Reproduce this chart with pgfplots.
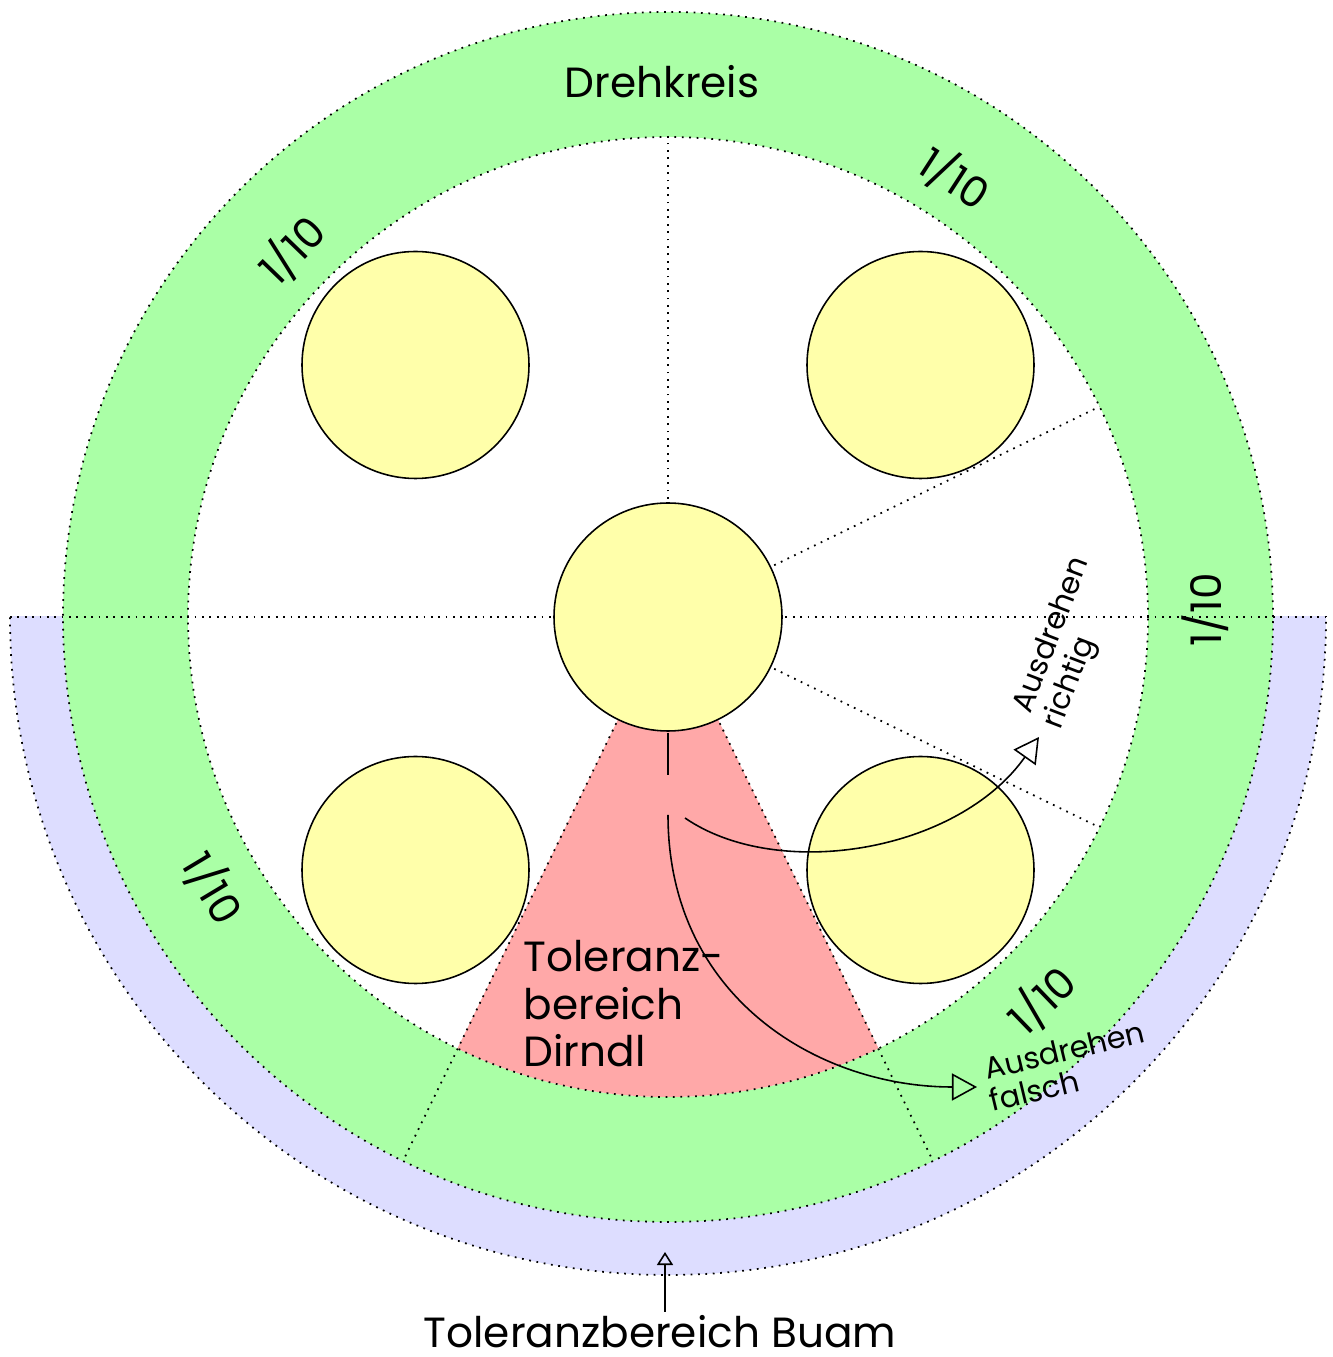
\documentclass[border=0pt]{standalone}
\usepackage{pgfplots}
\pgfplotsset{compat=1.18}
\usepackage{fontspec}
\setmainfont{Poppins}
\usetikzlibrary{arrows.meta}
\definecolor{ringgreen}{RGB}{170,255,166}
\definecolor{bandblue}{RGB}{221,221,255}
\definecolor{sectred}{RGB}{255,168,168}
\definecolor{yel}{RGB}{255,255,170}
\tikzset{dotl/.style={line width=0.5pt, dash pattern=on 0.5pt off 1.6pt, draw=black},
  sol/.style={line width=0.45pt, draw=black}}
\newcommand{\bigtxt}{\fontsize{12}{15}\selectfont}
\newcommand{\smtxt}{\fontsize{8.6}{11}\selectfont}
\begin{document}
\begin{tikzpicture}
\begin{axis}[x=0.01cm, y=0.01cm, xmin=-668, xmax=664, ymin=-740, ymax=617,
  hide axis, clip=false]
% blue band (lower half)
\begin{scope}
\clip (axis cs:-700,0) rectangle (axis cs:700,-700);
\fill[bandblue] (axis cs:0,0) circle[radius=658];
\draw[dotl] (axis cs:0,0) circle[radius=658];
\end{scope}
% green ring
\fill[ringgreen] (axis cs:0,0) circle[radius=605];
\fill[white] (axis cs:0,0) circle[radius=480];
% red sector
\begin{scope}
\clip (axis cs:0,0) circle[radius=480];
\addplot[draw=none, fill=sectred] coordinates {(0,0) (-307,-629) (307,-629) (0,0)} -- cycle;
\end{scope}
% dotted outlines
\draw[dotl] (axis cs:0,0) circle[radius=605];
\draw[dotl] (axis cs:0,0) circle[radius=480];
\addplot[dotl] coordinates {(-658,0) (658,0)};
\addplot[dotl] coordinates {(0,0) (0,480)};
\addplot[dotl] coordinates {(0,0) (431.5,210.4)};
\addplot[dotl] coordinates {(0,0) (431.5,-210.4)};
\addplot[dotl] coordinates {(0,0) (-265,-544)};
\addplot[dotl] coordinates {(0,0) (265,-544)};
% yellow circles
\filldraw[fill=yel, sol] (axis cs:0,0) circle[radius=114];
\filldraw[fill=yel, sol] (axis cs:-252.5,252) circle[radius=113.5];
\filldraw[fill=yel, sol] (axis cs:252.5,252) circle[radius=113.5];
\filldraw[fill=yel, sol] (axis cs:-252.5,-253) circle[radius=113.5];
\filldraw[fill=yel, sol] (axis cs:252.5,-253) circle[radius=113.5];
% arrows
\addplot[sol] coordinates {(0,-116) (0,-158)};
\draw[sol, -{Triangle[open, length=0.25cm, width=0.27cm]}] (axis cs:17,-201) .. controls (axis cs:110,-265) and (axis cs:290,-235) .. (axis cs:371,-120);
\draw[sol, -{Triangle[open, length=0.25cm, width=0.27cm]}] (axis cs:0,-198) .. controls (axis cs:0,-380) and (axis cs:150,-470) .. (axis cs:309,-470);
\draw[sol, -{Triangle[open, length=0.13cm, width=0.16cm]}] (axis cs:-3,-695) -- (axis cs:-3,-635);
% texts
\node[anchor=base, inner sep=0pt] at (axis cs:-6,519) {\bigtxt Drehkreis};
\node[anchor=base, inner sep=0pt] at (axis cs:-8,-731) {\bigtxt Toleranzbereich Buam};
\node[anchor=base west, inner sep=0pt] at (axis cs:-145,-355) {\bigtxt Toleranz-};
\node[anchor=base west, inner sep=0pt] at (axis cs:-145,-403) {\bigtxt bereich};
\node[anchor=base west, inner sep=0pt] at (axis cs:-145,-450) {\bigtxt Dirndl};
\node[anchor=center, rotate=-33, inner sep=0pt] at (axis cs:287,439) {\bigtxt 1/10};
\node[anchor=center, rotate=46, inner sep=0pt] at (axis cs:-376,367) {\bigtxt 1/10};
\node[anchor=center, rotate=90, inner sep=0pt] at (axis cs:537,7) {\bigtxt 1/10};
\node[anchor=center, rotate=-59, inner sep=0pt] at (axis cs:-455,-271) {\bigtxt 1/10};
\node[anchor=center, rotate=44, inner sep=0pt] at (axis cs:374,-383) {\bigtxt 1/10};
\node[anchor=base west, rotate=69, inner sep=0pt] at (axis cs:362,-98) {\smtxt Ausdrehen};
\node[anchor=base west, rotate=69, inner sep=0pt] at (axis cs:392,-114) {\smtxt richtig};
\node[anchor=base west, rotate=13.5, inner sep=0pt] at (axis cs:319,-463) {\smtxt Ausdrehen};
\node[anchor=base west, rotate=13.5, inner sep=0pt] at (axis cs:324,-495) {\smtxt falsch};
\end{axis}
\pgfresetboundingbox
\path (current axis.south west) rectangle (current axis.north east);
\end{tikzpicture}
\end{document}
